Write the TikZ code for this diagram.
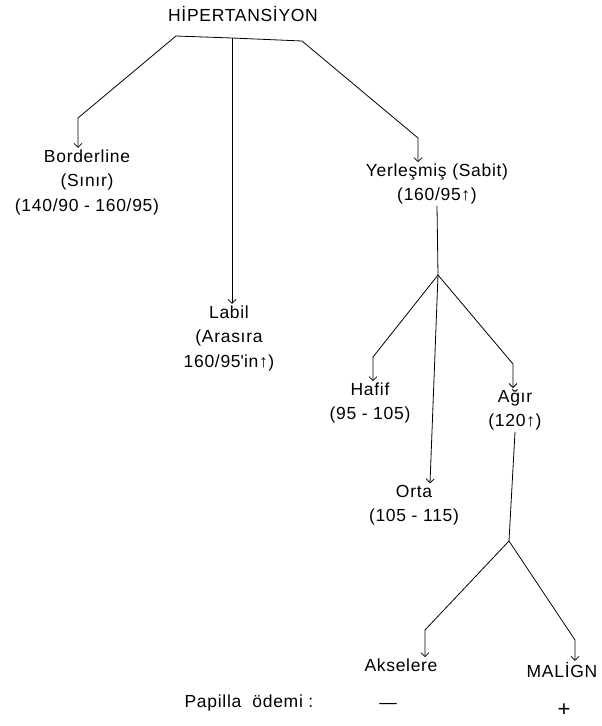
\documentclass[tikz,border=0pt]{standalone}
\usepackage{fontspec}
\setmainfont[LetterSpace=4]{Liberation Sans}
\usetikzlibrary{arrows.meta,calc}

\tikzset{
  lbl/.style={align=center, inner sep=1pt, font=\fontsize{17.5}{24.5}\selectfont},
  arr/.style={-{Straight Barb[length=4pt,width=8pt]}}
}

\begin{document}
\begin{tikzpicture}[x=1pt, y=-1pt, line width=0.8pt]
\useasboundingbox (0,0) rectangle (602,726);

\node[lbl] (hip) at (243,14) {HİPERTANSİYON};
\node[lbl] (border) at (87,182) {Borderline\\(Sınır)\\(140/90 - 160/95)};
\node[lbl] (labil) at (229,338) {Labil\\(Arasıra\\160/95\textquotesingle in↑)};
\node[lbl] (yerl) at (437,184) {Yerleşmiş (Sabit)\\(160/95↑)};
\node[lbl] (hafif) at (370,403) {Hafif\\(95 - 105)};
\node[lbl] (agir) at (515,410) {Ağır\\(120↑)};
\node[lbl] (orta) at (414,505) {Orta\\(105 - 115)};
\node[lbl] (aks) at (401,665) {Akselere};
\node[lbl] (mal) at (562,670) {MALİGN};

\node[lbl] (pap) at (249,703) {Papilla~~ödemi :};
\node[lbl] (minus) at (388,706) {—};
\node[lbl, font=\fontsize{22}{24}\selectfont] (plus) at (564,710) {+};

% upper branches
\coordinate (tl) at (176,36);
\coordinate (tm) at (232,38);
\coordinate (tr) at (302,41);
\coordinate (bl) at (78,118);
\coordinate (br) at (418,138);
\draw (tl) -- (tm) -- (tr);
\draw[arr] (tl) -- (bl) -- (bl |- border.north);
\draw[arr] (tm) -- (tm |- labil.north);
\draw[arr] (tr) -- (br) -- (br |- yerl.north);

% Yerlesmis
\coordinate (f1) at (438,275);
\coordinate (hl) at (373,357);
\coordinate (ar) at (513,364);
\draw (yerl.south) -- (f1);
\draw[arr] (f1) -- (hl) -- (hl |- hafif.north);
\draw[arr] (f1) -- (ar) -- (ar |- agir.north);
\draw[arr] (f1) -- ([xshift=16pt]orta.north);

% Agir
\coordinate (f2) at (509,541);
\coordinate (al) at (425,630);
\coordinate (mr) at (575,640);
\draw (agir.south) -- (f2);
\draw[arr] (f2) -- (al) -- (al |- aks.north);
\draw[arr] (f2) -- (mr) -- (mr |- mal.north);

\end{tikzpicture}
\end{document}
